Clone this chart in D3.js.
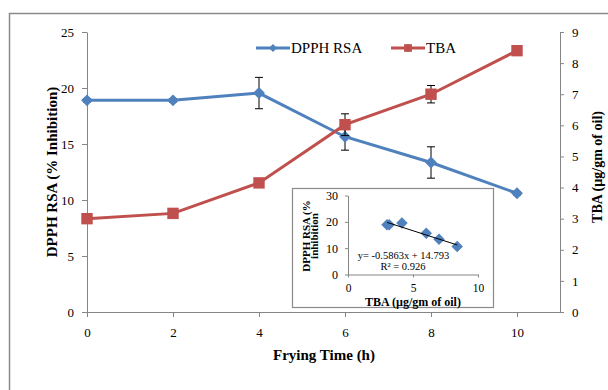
<!DOCTYPE html>
<meta charset="utf-8">
<html>
  <head>
    <title>DPPH RSA and TBA vs frying time</title>
    <script src="https://d3js.org/d3.v7.min.js"></script>
    <style>
      body { margin: 0; background: #fff; }
      svg { display: block; }
      text { font-family: "Liberation Serif", "Times New Roman", serif; }
      .axis path, .axis line { stroke: #868686; }
      .axis text { fill: #000; }
    </style>
  </head>
  <body>
    <div id="chart"></div>
    <script>
      // frying time (h)
      var hours = [0, 2, 4, 6, 8, 10];
      // DPPH RSA (% inhibition), left axis
      var dpph = [18.9, 18.9, 19.55, 15.65, 13.35, 10.6];
      var dpphErr = [0.15, 0.15, 1.4, 1.2, 1.4, 0.15];
      // TBA (ug/gm of oil), right axis
      var tba = [3.0, 3.17, 4.15, 6.02, 7.0, 8.4];
      var tbaErr = [0.08, 0.08, 0.1, 0.35, 0.28, 0.1];

      var leftTicks = [0, 5, 10, 15, 20, 25];
      var rightTicks = [0, 1, 2, 3, 4, 5, 6, 7, 8, 9];
      var timeTicks = [0, 2, 4, 6, 8, 10];
      var insetXTicks = [0, 5, 10];
      var insetYTicks = [0, 10, 20, 30];
      var eqText = "y= -0.5863x + 14.793";
      var r2Text = "R\u00b2 = 0.926";

      var blue = "#4f81bd", red = "#c0504d";
      var serif = "'Liberation Serif', 'Times New Roman', serif";

      var svg = d3.select("#chart").append("svg")
        .attr("width", 608).attr("height", 390)
        .attr("font-family", serif);

      // outer chart frame (runs off the right and bottom of the picture)
      svg.append("rect")
        .attr("x", 9.5).attr("y", 13.5).attr("width", 640).attr("height", 420)
        .attr("fill", "none").attr("stroke", "#8a8a8a").attr("stroke-width", 1.5);

      var x = d3.scaleLinear().domain([0, 11]).range([87, 560]);
      var yL = d3.scaleLinear().domain([0, 25]).range([312, 32]);
      var yR = d3.scaleLinear().domain([0, 9]).range([312, 32]);

      function styleAxis(g, size) {
        g.attr("font-family", serif).attr("font-size", size);
      }

      svg.append("g").attr("class", "axis")
        .attr("transform", "translate(87,0)")
        .call(d3.axisLeft(yL).tickValues(leftTicks).tickSize(5).tickSizeOuter(0).tickPadding(8))
        .call(styleAxis, 13);

      svg.append("g").attr("class", "axis")
        .attr("transform", "translate(560,0)")
        .call(d3.axisRight(yR).tickValues(rightTicks).tickSize(4).tickSizeOuter(0).tickPadding(8))
        .call(styleAxis, 13);

      svg.append("g").attr("class", "axis")
        .attr("transform", "translate(0,312)")
        .call(d3.axisBottom(x).tickValues(timeTicks).tickSize(5).tickSizeOuter(0).tickPadding(11))
        .call(styleAxis, 13);

      // axis titles
      svg.append("text")
        .attr("transform", "translate(52,172) rotate(-90)")
        .attr("text-anchor", "middle").attr("dy", "0.35em")
        .style("font-weight", "bold").style("font-size", "15px")
        .text("DPPH RSA (% Inhibition)");
      svg.append("text")
        .attr("transform", "translate(597,167) rotate(-90)")
        .attr("text-anchor", "middle").attr("dy", "0.35em")
        .style("font-weight", "bold").style("font-size", "14px")
        .text("TBA (\u00b5g/gm of oil)");
      svg.append("text")
        .attr("x", 324).attr("y", 355).attr("dy", "0.35em")
        .attr("text-anchor", "middle")
        .style("font-weight", "bold").style("font-size", "15px")
        .text("Frying Time (h)");

      var diamond = d3.symbol().type(d3.symbolDiamond2).size(90);
      var square = d3.symbol().type(d3.symbolSquare).size(130);

      function drawSeries(vals, errs, y, color, shape) {
        var g = svg.append("g");
        var pts = hours.map(function(h, i) { return {x: h, y: vals[i], e: errs[i]}; });
        g.append("path").datum(pts)
          .attr("fill", "none").attr("stroke", color).attr("stroke-width", 3)
          .attr("d", d3.line().x(function(d) { return x(d.x); }).y(function(d) { return y(d.y); }));
        var eb = g.selectAll(".err").data(pts).enter().append("g").attr("stroke", "#000").attr("stroke-width", 1);
        eb.append("line")
          .attr("x1", function(d) { return x(d.x); }).attr("x2", function(d) { return x(d.x); })
          .attr("y1", function(d) { return y(d.y + d.e); }).attr("y2", function(d) { return y(d.y - d.e); });
        eb.append("line")
          .attr("x1", function(d) { return x(d.x) - 4; }).attr("x2", function(d) { return x(d.x) + 4; })
          .attr("y1", function(d) { return y(d.y + d.e); }).attr("y2", function(d) { return y(d.y + d.e); });
        eb.append("line")
          .attr("x1", function(d) { return x(d.x) - 4; }).attr("x2", function(d) { return x(d.x) + 4; })
          .attr("y1", function(d) { return y(d.y - d.e); }).attr("y2", function(d) { return y(d.y - d.e); });
        g.selectAll(".mk").data(pts).enter().append("path")
          .attr("d", shape).attr("fill", color)
          .attr("transform", function(d) { return "translate(" + x(d.x) + "," + y(d.y) + ")"; });
      }
      drawSeries(dpph, dpphErr, yL, blue, diamond);
      drawSeries(tba, tbaErr, yR, red, square);

      // legend
      var legend = [
        {name: "DPPH RSA", color: blue, shape: d3.symbol().type(d3.symbolDiamond2).size(40), x: 256},
        {name: "TBA", color: red, shape: d3.symbol().type(d3.symbolSquare).size(60), x: 391}
      ];
      var lg = svg.selectAll(".lg").data(legend).enter().append("g")
        .attr("transform", function(d) { return "translate(" + d.x + ",48)"; });
      lg.append("line").attr("x1", 0).attr("x2", 34)
        .attr("stroke", function(d) { return d.color; }).attr("stroke-width", 3);
      lg.append("path").attr("d", function(d) { return d.shape(); })
        .attr("fill", function(d) { return d.color; }).attr("transform", "translate(17,0)");
      lg.append("text").attr("x", 35).attr("dy", "0.35em")
        .style("font-size", "15px").text(function(d) { return d.name; });

      // inset: DPPH RSA vs TBA
      svg.append("rect")
        .attr("x", 292.5).attr("y", 188.5).attr("width", 201).attr("height", 119)
        .attr("fill", "#fff").attr("stroke", "#8a8a8a").attr("stroke-width", 1.2);

      var ix = d3.scaleLinear().domain([0, 10]).range([348, 478]);
      var iy = d3.scaleLinear().domain([0, 30]).range([274.5, 195.5]);

      svg.append("g").attr("class", "axis")
        .attr("transform", "translate(348,0)")
        .call(d3.axisLeft(iy).tickValues(insetYTicks).tickSize(3).tickSizeOuter(0).tickPadding(7))
        .call(styleAxis, 12);
      svg.append("g").attr("class", "axis")
        .attr("transform", "translate(0,274.5)")
        .call(d3.axisBottom(ix).tickValues(insetXTicks).tickSize(3).tickSizeOuter(0).tickPadding(6))
        .call(styleAxis, 11.5);

      var ipts = tba.map(function(t, i) { return [t, dpph[i]]; });
      // least-squares trend line
      var mx = d3.mean(ipts, function(d) { return d[0]; });
      var my = d3.mean(ipts, function(d) { return d[1]; });
      var sxy = d3.sum(ipts, function(d) { return (d[0] - mx) * (d[1] - my); });
      var sxx = d3.sum(ipts, function(d) { return (d[0] - mx) * (d[0] - mx); });
      var slope = sxy / sxx, icpt = my - slope * mx;
      var xr = d3.extent(ipts, function(d) { return d[0]; });

      svg.selectAll(".ip").data(ipts).enter().append("path")
        .attr("d", d3.symbol().type(d3.symbolDiamond2).size(85)).attr("fill", blue)
        .attr("transform", function(d) { return "translate(" + ix(d[0]) + "," + iy(d[1]) + ")"; });
      svg.append("line")
        .attr("x1", ix(xr[0])).attr("y1", iy(slope * xr[0] + icpt))
        .attr("x2", ix(xr[1])).attr("y2", iy(slope * xr[1] + icpt))
        .attr("stroke", "#000").attr("stroke-width", 1);

      svg.append("text").attr("x", 403.5).attr("y", 259)
        .attr("text-anchor", "middle").style("font-size", "10.5px").text(eqText);
      svg.append("text").attr("x", 403).attr("y", 270)
        .attr("text-anchor", "middle").style("font-size", "10.5px").text(r2Text);

      svg.append("text")
        .attr("transform", "translate(306,236) rotate(-90)")
        .attr("text-anchor", "middle").attr("dy", "0.35em")
        .style("font-weight", "bold").style("font-size", "11px")
        .text("DPPH RSA (%");
      svg.append("text")
        .attr("transform", "translate(314,236) rotate(-90)")
        .attr("text-anchor", "middle").attr("dy", "0.35em")
        .style("font-weight", "bold").style("font-size", "11px")
        .text("inhibition");
      svg.append("text")
        .attr("x", 413).attr("y", 302).attr("dy", "0.3em")
        .attr("text-anchor", "middle")
        .style("font-weight", "bold").style("font-size", "12px")
        .text("TBA (\u00b5g/gm of oil)");
    </script>
  </body>
</html>
